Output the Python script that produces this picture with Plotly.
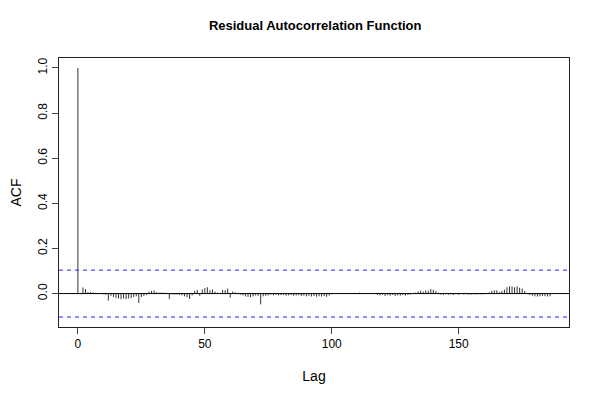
import plotly.graph_objects as go

title = "Residual Autocorrelation Function"
x_label = "Lag"
y_label = "ACF"
conf_limit = 0.104

acf_values = [
    1.0, 0.003, 0.027, 0.02, 0.006, 0.007, 0.005, 0.003, 0.002, -0.002,
    -0.003, -0.005, -0.031, -0.01, -0.015, -0.02, -0.022, -0.025, -0.022, -0.025,
    -0.022, -0.02, -0.015, -0.012, -0.042, -0.015, -0.01, -0.006, 0.008, 0.012,
    0.013, 0.006, 0.004, 0.005, 0.004, 0.003, -0.024, -0.004, -0.005, -0.004,
    -0.006, -0.008, -0.012, -0.016, -0.024, -0.008, 0.012, 0.016, -0.01, 0.018,
    0.025, 0.028, 0.015, 0.018, 0.009, 0.004, 0.003, 0.016, 0.015, 0.022,
    -0.018, 0.009, 0.005, 0.003, -0.005, -0.008, -0.012, -0.015, -0.016, -0.012,
    -0.008, -0.01, -0.048, -0.012, -0.01, -0.008, -0.005, -0.008, -0.006, -0.009,
    -0.007, -0.006, -0.009, -0.008, -0.006, -0.01, -0.008, -0.007, -0.011, -0.009,
    -0.012, -0.01, -0.013, -0.011, -0.014, -0.012, -0.013, -0.011, -0.014, -0.009,
    -0.003, 0.002, 0.001, 0.002, -0.001, 0.002, 0.001, 0.002, 0.001, 0.003,
    0.002, 0.004, 0.001, 0.002, -0.001, 0.002, 0.001, 0.003, -0.006, -0.008,
    -0.005, -0.01, -0.007, -0.009, -0.006, -0.01, -0.008, -0.009, -0.007, -0.009,
    -0.006, -0.004, -0.002, 0.004, 0.01, 0.013, 0.009, 0.014, 0.013, 0.02,
    0.017, 0.012, 0.004, -0.004, -0.006, -0.003, -0.005, -0.004, -0.006, -0.003,
    -0.005, -0.002, -0.004, -0.003, -0.005, -0.004, -0.003, -0.004, -0.003, -0.004,
    -0.003, -0.002, 0.005, 0.012, 0.015, 0.014, 0.006, 0.012, 0.018, 0.028,
    0.032, 0.032, 0.028, 0.032, 0.026, 0.022, 0.012, 0.002, -0.006, -0.01,
    -0.012, -0.013, -0.012, -0.01, -0.012, -0.013, -0.012,
]
lags = list(range(len(acf_values)))

x_ticks = [0, 50, 100, 150]
y_ticks = [0.0, 0.2, 0.4, 0.6, 0.8, 1.0]

# build vertical segments
xs, ys = [], []
for lag, v in zip(lags, acf_values):
    xs += [lag, lag, None]
    ys += [0, v, None]

fig = go.Figure()
fig.add_trace(go.Scatter(x=xs, y=ys, mode="lines",
                         line=dict(color="#333333", width=1),
                         hoverinfo="skip", showlegend=False))

fig.add_hline(y=0, line=dict(color="black", width=1))
fig.add_hline(y=conf_limit, line=dict(color="#2020ff", width=1, dash="4px,4px"))
fig.add_hline(y=-conf_limit, line=dict(color="#2020ff", width=1, dash="4px,4px"))

n = len(acf_values) - 1
xpad = 0.04 * n
ymin = min(-conf_limit, min(acf_values))
ymax = max(conf_limit, max(acf_values))
ypad = 0.04 * (ymax - ymin)

font = "Liberation Sans, Arial, Helvetica, sans-serif"

fig.update_layout(
    width=584, height=384,
    margin=dict(l=51, r=23, t=50, b=65),
    paper_bgcolor="white", plot_bgcolor="white",
    font=dict(family=font, size=12, color="black"),
    title=dict(text="<b>" + title + "</b>", x=0.526, xanchor="center",
               y=0.955, yanchor="middle", font=dict(size=13)),
    xaxis=dict(range=[-xpad, n + xpad], tickvals=x_ticks, ticks="outside",
               ticklen=6, tickcolor="#444", showgrid=False, zeroline=False,
               showline=True, linecolor="#222", mirror=True, automargin=False,
               title=dict(text=x_label, standoff=20)),
    yaxis=dict(range=[ymin - ypad, ymax + ypad], tickvals=y_ticks,
               tickformat=".1f", ticks="outside", ticklen=6, tickcolor="#444",
               tickangle=-90, showgrid=False, zeroline=False, automargin=False,
               showline=True, linecolor="#222", mirror=True,
               title=dict(text=y_label, standoff=30)),
)

fig.write_html("out.html")
